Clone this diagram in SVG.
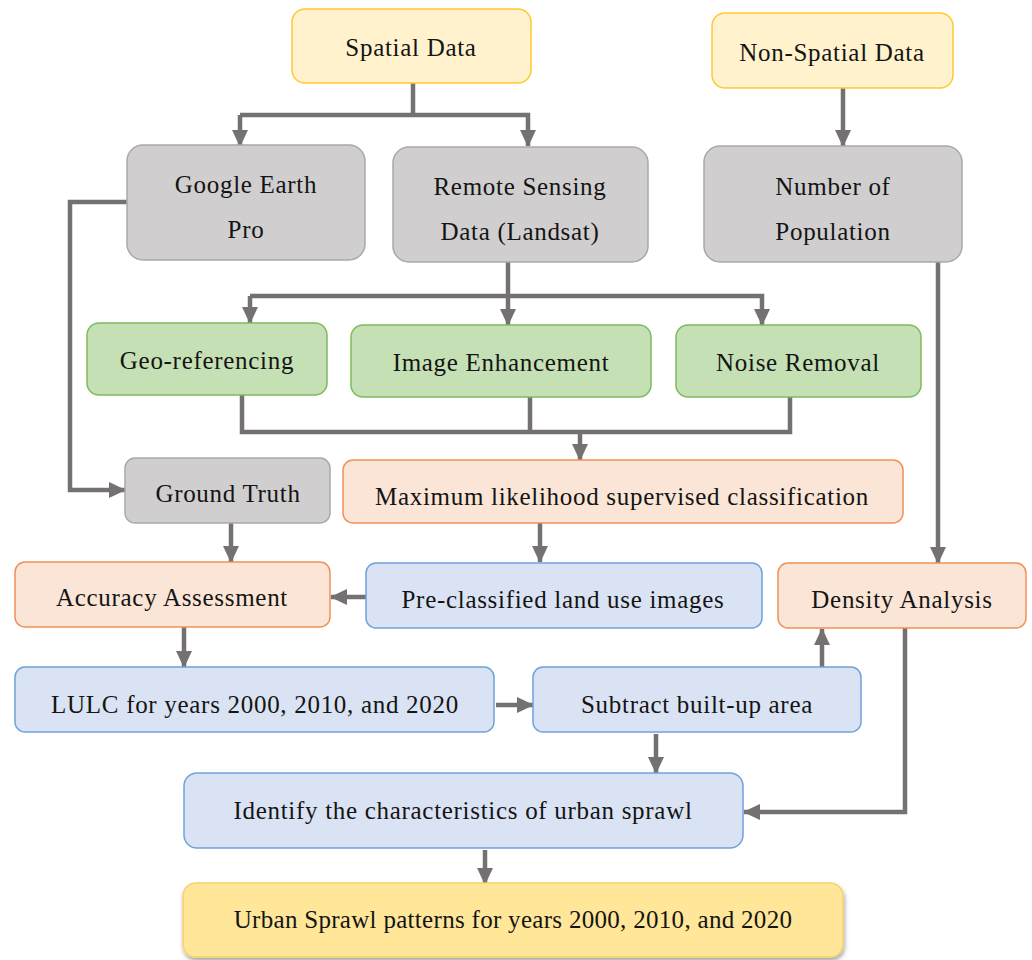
<svg xmlns="http://www.w3.org/2000/svg" width="1032" height="960" viewBox="0 0 1032 960">
<style>
text{font-family:"Liberation Serif","DejaVu Serif",serif;font-size:25px;letter-spacing:0.7px;fill:#141414;text-anchor:middle}
.yel{fill:#fff2cc;stroke:#ffc936;stroke-width:1.5}
.gry{fill:#d0cece;stroke:#a9a9a9;stroke-width:1.5}
.grn{fill:#c5e0b4;stroke:#7fba5a;stroke-width:1.5}
.org{fill:#fbe5d6;stroke:#f0905a;stroke-width:1.5}
.blu{fill:#dae3f3;stroke:#6fa3dc;stroke-width:1.5}
.fin{fill:#ffe699;stroke:#f5d36e;stroke-width:1.5}
.c{fill:none;stroke:#767171;stroke-width:4.5}
.a{marker-end:url(#ah)}
</style>
<defs>
<marker id="ah" markerUnits="userSpaceOnUse" markerWidth="17" markerHeight="16" refX="16" refY="8" orient="auto">
<path d="M0,0 L17,8 L0,16 Z" fill="#767171"/>
</marker>
<filter id="sh" x="-5%" y="-10%" width="110%" height="130%">
<feDropShadow dx="1" dy="3" stdDeviation="2" flood-color="#000" flood-opacity="0.35"/>
</filter>
</defs>
<rect width="1032" height="960" fill="#fff"/>
<g id="connectors">
<path class="c" d="M413,83 V115"/>
<path class="c a" d="M240,115 H528 V146"/>
<path class="c a" d="M240,115 V146"/>
<path class="c a" d="M843,88 V146"/>
<path class="c a" d="M127,202 H70 V490 H125"/>
<path class="c" d="M508,262 V296"/>
<path class="c a" d="M250,296 H762 V325"/>
<path class="c a" d="M250,296 V323"/>
<path class="c a" d="M508,296 V325"/>
<path class="c" d="M242,395 V432 H790 V397"/>
<path class="c" d="M530,397 V432"/>
<path class="c a" d="M580,432 V460"/>
<path class="c a" d="M231,523 V562"/>
<path class="c a" d="M540,523 V562"/>
<path class="c a" d="M366,597 H331"/>
<path class="c a" d="M938,262 V563"/>
<path class="c a" d="M184,627 V667"/>
<path class="c a" d="M496,705 H533"/>
<path class="c a" d="M822,667 V629"/>
<path class="c a" d="M656,734 V773"/>
<path class="c a" d="M905,628 V812 H744"/>
<path class="c a" d="M485,850 V884"/>
</g>
<g id="spatial"><rect class="yel" x="292" y="9" width="239" height="74" rx="13"/><text x="411" y="56">Spatial Data</text></g>
<g id="nonspatial"><rect class="yel" x="712" y="13" width="241" height="75" rx="13"/><text x="832" y="61">Non-Spatial Data</text></g>
<g id="google"><rect class="gry" x="127" y="145" width="238" height="115" rx="16"/><text x="246" y="193">Google Earth</text><text x="246" y="238">Pro</text></g>
<g id="remote"><rect class="gry" x="393" y="147" width="255" height="115" rx="16"/><text x="520" y="195">Remote Sensing</text><text x="520" y="240">Data (Landsat)</text></g>
<g id="population"><rect class="gry" x="704" y="146" width="258" height="116" rx="16"/><text x="833" y="195">Number of</text><text x="833" y="240">Population</text></g>
<g id="geo"><rect class="grn" x="87" y="323" width="240" height="72" rx="12"/><text x="207" y="369">Geo-referencing</text></g>
<g id="enhance"><rect class="grn" x="351" y="325" width="300" height="72" rx="12"/><text x="501" y="371">Image Enhancement</text></g>
<g id="noise"><rect class="grn" x="676" y="325" width="245" height="72" rx="12"/><text x="798" y="371">Noise Removal</text></g>
<g id="ground"><rect class="gry" x="125" y="458" width="205" height="65" rx="10"/><text x="228" y="502">Ground Truth</text></g>
<g id="maxlik"><rect class="org" x="343" y="460" width="560" height="63" rx="10"/><text x="622" y="505">Maximum likelihood supervised classification</text></g>
<g id="accuracy"><rect class="org" x="15" y="562" width="315" height="65" rx="10"/><text x="172" y="606">Accuracy Assessment</text></g>
<g id="preclass"><rect class="blu" x="366" y="563" width="396" height="65" rx="10"/><text x="563" y="608">Pre-classified land use images</text></g>
<g id="density"><rect class="org" x="778" y="563" width="248" height="65" rx="10"/><text x="902" y="608">Density Analysis</text></g>
<g id="lulc"><rect class="blu" x="15" y="667" width="479" height="65" rx="10"/><text x="255" y="713">LULC for years 2000, 2010, and 2020</text></g>
<g id="subtract"><rect class="blu" x="533" y="667" width="328" height="65" rx="10"/><text x="697" y="713">Subtract built-up area</text></g>
<g id="identify"><rect class="blu" x="184" y="773" width="559" height="75" rx="13"/><text x="463" y="819">Identify the characteristics of urban sprawl</text></g>
<g id="urban"><rect class="fin" x="183" y="883" width="660" height="74" rx="13" filter="url(#sh)"/><text x="513" y="928" style="letter-spacing:0.3px">Urban Sprawl patterns for years 2000, 2010, and 2020</text></g>
</svg>
